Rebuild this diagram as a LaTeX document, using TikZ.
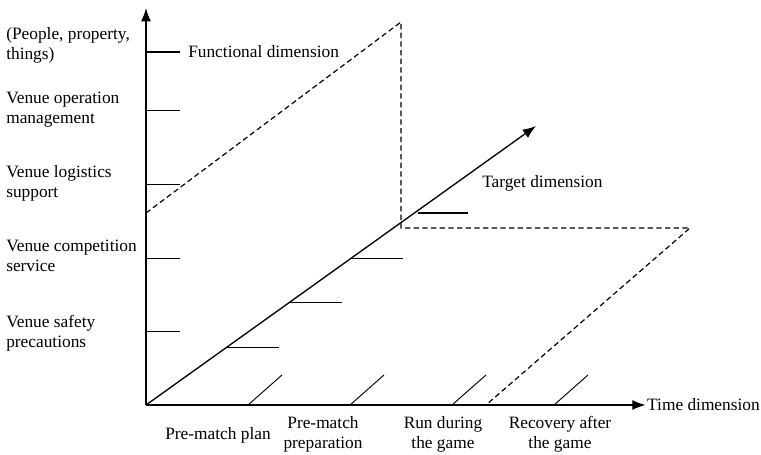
\documentclass[tikz,border=0pt]{standalone}
\usepackage{fontspec}
\setmainfont{Liberation Serif}
\usetikzlibrary{arrows.meta}

\begin{document}
\begin{tikzpicture}[x=0.75pt,y=-0.75pt,
  lbl/.style={font=\fontsize{13}{15}\selectfont,inner sep=0pt},
  axis/.style={black,-{Latex[length=10pt,width=7.5pt]},line width=1pt},
  tick/.style={black,line width=0.7pt},
  bigtick/.style={black,line width=1.3pt},
  plane/.style={black,line width=0.9pt,dash pattern=on 4pt off 2.5pt}]
 \useasboundingbox (0,0) rectangle (761,454);
 \coordinate (O) at (146,405);
 \coordinate (ytip) at (146,8);
 \coordinate (ztip) at (536,126);
 \node[lbl,anchor=east] (time) at (760,405) {Time dimension};
 \node[lbl,anchor=west] (target) at (482,183) {Target dimension};
 \node[lbl,anchor=west] (func) at (188,52) {Functional dimension};
 % left labels
 \node[lbl,anchor=west,align=left] (ppt) at (6,45) {(People, property,\\things)};
 \node[lbl,anchor=west,align=left] (vom) at (6,110) {Venue operation\\management};
 \node[lbl,anchor=west,align=left] (vls) at (6,183) {Venue logistics\\support};
 \node[lbl,anchor=west,align=left] (vcs) at (6,256) {Venue competition\\service};
 \node[lbl,anchor=west,align=left] (vsp) at (6,333) {Venue safety\\precautions};
 % bottom labels
 \node[lbl,align=center] (plan) at (218,435) {Pre-match plan};
 \node[lbl,align=center] (prep) at (323,434) {Pre-match\\preparation};
 \node[lbl,align=center] (run) at (443,434) {Run during\\the game};
 \node[lbl,align=center] (recov) at (560,434) {Recovery after\\the game};
 % dashed planes
 \coordinate (fa) at (146,213);
 \coordinate (fb) at (401,22);
 \coordinate (fc) at (401,228);
 \coordinate (fd) at (690,228);
 \coordinate (fe) at (486,405);
 \draw[plane] (fa) -- (fb) -- (fc) -- (fd) -- (fe);
 % axes
 \draw[axis] (O) -- ([xshift=-1pt]time.west);
 \draw[axis] (O) -- (ytip);
 \draw[axis] (O) -- (ztip);
 % ticks
 \draw[bigtick] (146,52) -- ++(34,0);
 \foreach \y in {110,184,258,331}
  \draw[tick] (146,\y) -- ++(34,0);
 \foreach \x/\y in {227/347,290/302,351/258}
  \draw[tick] (\x,\y) -- ++(52,0);
 \draw[bigtick] (418,213) -- ++(50,0);
 \foreach \x in {248,350,452,554}
  \draw[tick] (\x,405) -- ++(34,-30);
\end{tikzpicture}
\end{document}
